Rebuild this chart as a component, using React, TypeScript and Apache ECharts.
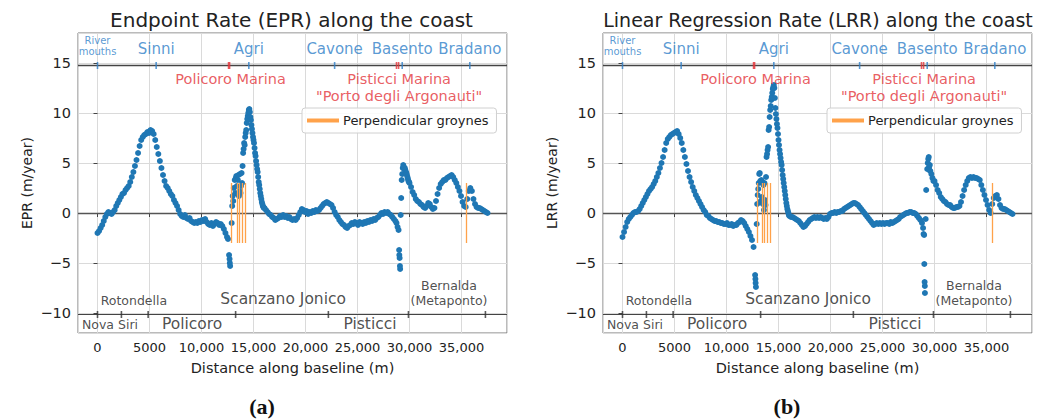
import React, { useEffect, useRef } from 'react';
import * as echarts from 'echarts';

// ---------- DATA (distances in metres, rates in m/year) ----------
const STEP_M = 150;
const SEG_A_START = 0;
const SEG_B_START = 16050;
const SEG_C_START = 30000;

const eprSegA = [-2.0,-1.8,-1.5,-1.2,-0.8,-0.4,-0.1,0.1,0.0,-0.1,
  0.1,0.3,0.7,1.0,1.3,1.6,1.9,2.0,2.3,2.5,
  2.7,3.1,3.6,4.1,4.7,5.3,6.0,6.7,7.3,7.6,
  7.8,7.9,8.1,8.0,8.3,8.2,7.9,7.3,6.6,5.9,
  5.2,4.5,3.8,3.2,2.7,2.5,2.2,1.9,1.7,1.3,
  1.0,0.7,0.3,-0.1,-0.3,-0.4,-0.2,-0.5,-0.6,-0.5,
  -0.8,-0.9,-1.0,-0.9,-1.0,-0.8,-0.9,-0.7,-0.8,-0.6,
  -0.9,-1.1,-1.2,-1.0,-1.3,-1.1,-0.9,-1.0,-1.2,-1.1,
  -1.3,-1.6,-2.0,-2.4];
const eprSegB = [0.5,0.3,0.1,-0.1,-0.2,-0.4,-0.5,-0.7,-0.6,-0.5,
  -0.3,-0.4,-0.2,-0.4,-0.3,-0.5,-0.4,-0.6,-0.7,-0.6,
  -0.7,-0.5,-0.2,0.1,0.4,0.3,0.1,0.2,-0.1,0.1,
  0.0,0.2,0.1,0.3,0.2,0.3,0.5,0.7,0.9,1.0,
  1.1,1.0,0.9,0.8,0.5,0.1,-0.2,-0.4,-0.7,-0.9,
  -1.1,-1.2,-1.4,-1.5,-1.3,-1.2,-1.0,-1.1,-0.9,-1.0,
  -1.2,-0.9,-1.0,-1.1,-0.9,-1.0,-0.8,-0.9,-0.7,-0.8,
  -0.6,-0.7,-0.5,-0.4,-0.2,0.0,-0.1,0.1,0.0,0.1,
  -0.1,-0.2,-0.4,-0.6,-0.8];
const eprSegC = [3.0,2.6,2.1,1.8,1.4,1.2,1.1,0.9,0.8,0.6,
  0.5,0.7,1.0,0.9,0.6,0.4,0.5,1.2,1.9,2.5,
  2.9,3.1,3.3,3.3,3.5,3.6,3.7,3.8,3.6,3.3,
  3.0,2.6,2.2,1.7,1.1,0.7,0.6,1.4,2.2,2.5,
  2.2,1.4,0.9,0.6,0.5,0.5,0.4,0.3,0.2,0.1,
  0.0];
// irregular points (km, m/yr) near the Agri and Basento mouths
const eprSparse = [[12.55,-2.6],[12.65,-4.2],[12.7,-4.6],[12.72,-5.0],[12.75,-5.3],[12.9,-1.0],[12.95,0.7],[13.0,1.7],[13.05,1.2],[13.1,2.5],[13.2,3.3],[13.25,2.0],[13.3,3.5],[13.35,3.7],[13.4,2.7],[13.45,1.9],[13.5,3.3],[13.55,3.8],[13.6,1.7],[13.65,2.2],[13.7,3.9],[13.75,2.0],[13.8,2.7],[13.85,4.0],[13.9,3.0],[13.95,4.7],[14.0,6.0],[14.05,6.4],[14.1,7.0],[14.15,6.8],[14.2,7.6],[14.25,8.0],[14.3,8.3],[14.35,9.0],[14.4,9.4],[14.45,9.7],[14.5,10.0],[14.55,10.3],[14.6,10.4],[14.65,10.1],[14.7,9.6],[14.75,9.3],[14.8,8.8],[14.85,8.4],[14.9,8.0],[14.95,7.6],[15.0,7.3],[15.05,7.0],[15.1,6.5],[15.15,6.0],[15.2,5.7],[15.25,5.2],[15.3,4.8],[15.35,4.4],[15.4,4.1],[15.45,3.6],[15.5,3.1],[15.55,2.8],[15.6,2.4],[15.65,2.0],[15.7,1.7],[15.75,1.4],[15.8,1.1],[15.85,0.9],[15.9,0.7],[15.95,0.6],[16.0,0.5],
  [28.75,-1.0],[28.85,-1.4],[28.95,-1.7],[29.0,-3.7],[29.02,-4.2],[29.05,-4.5],[29.08,-5.3],[29.1,-5.6],[29.15,-0.2],[29.2,1.5],[29.25,3.3],[29.3,3.9],[29.35,4.5],[29.4,4.8],[29.45,4.6],[29.5,4.4],[29.55,4.5],[29.6,4.3],[29.65,4.1],[29.7,4.0],[29.75,3.8],[29.8,3.6],[29.85,3.4],[29.9,3.2],[29.95,3.1]];

const lrrSegA = [-2.4,-1.9,-1.4,-0.9,-0.6,-0.4,-0.2,0.0,0.1,0.1,
  0.2,0.4,0.7,1.0,1.3,1.6,1.9,2.2,2.4,2.6,
  2.9,3.2,3.6,4.0,4.5,5.0,5.6,6.3,7.0,7.4,
  7.6,7.8,7.9,8.0,8.1,8.2,7.9,7.5,7.0,6.3,
  5.6,4.9,4.2,3.6,3.1,2.6,2.2,1.8,1.5,1.2,
  0.9,0.6,0.3,0.1,-0.2,-0.3,-0.5,-0.6,-0.7,-0.8,
  -0.8,-0.9,-0.9,-1.0,-1.0,-1.1,-1.1,-1.0,-1.2,-1.2,
  -1.1,-1.3,-1.2,-1.2,-1.0,-0.9,-0.7,-0.8,-1.0,-1.3,
  -1.6,-1.9,-2.3,-2.7];
const lrrSegB = [-0.3,-0.4,-0.4,-0.5,-0.6,-0.7,-0.8,-1.0,-1.2,-1.4,
  -1.3,-1.1,-0.9,-0.7,-0.6,-0.5,-0.4,-0.5,-0.4,-0.5,
  -0.4,-0.5,-0.6,-0.5,-0.6,-0.4,-0.1,0.0,0.0,0.1,
  0.0,0.1,0.1,0.2,0.2,0.4,0.5,0.6,0.7,0.8,
  0.9,1.0,1.0,0.9,0.8,0.6,0.4,0.2,0.0,-0.2,
  -0.4,-0.6,-0.8,-1.0,-1.2,-1.1,-1.0,-1.1,-1.0,-1.1,
  -1.0,-1.1,-1.0,-1.0,-1.1,-0.9,-1.0,-0.9,-0.8,-0.7,
  -0.6,-0.4,-0.3,-0.2,-0.1,0.0,0.0,0.1,0.1,0.0,
  0.0,-0.1,-0.3,-0.5,-0.7];
const lrrSegC = [3.2,2.8,2.3,2.0,1.6,1.4,1.2,1.1,0.9,0.8,
  0.8,0.6,0.5,0.5,0.6,0.6,0.7,1.1,1.7,2.3,
  2.8,3.2,3.5,3.6,3.5,3.6,3.5,3.5,3.4,3.3,
  2.8,2.3,1.8,1.3,0.8,0.3,0.0,0.9,1.5,1.7,
  1.8,1.4,0.8,0.5,0.4,0.4,0.3,0.2,0.1,0.0,
  -0.1];
const lrrSparse = [[12.6,-3.4],[12.75,-6.2],[12.78,-6.6],[12.8,-7.0],[12.83,-7.4],[12.9,-1.1],[12.95,0.9],[13.0,1.8],[13.05,2.4],[13.1,3.0],[13.15,3.9],[13.2,4.0],[13.25,3.2],[13.3,1.2],[13.35,3.3],[13.4,1.6],[13.45,3.1],[13.5,0.9],[13.55,2.8],[13.6,0.3],[13.62,1.1],[13.65,3.0],[13.7,1.3],[13.75,0.8],[13.8,3.6],[13.85,5.6],[13.9,5.9],[13.95,6.3],[14.0,6.6],[14.05,8.3],[14.1,8.6],[14.15,9.6],[14.2,10.3],[14.25,10.7],[14.3,11.3],[14.35,11.6],[14.4,12.0],[14.45,12.4],[14.5,12.6],[14.55,12.8],[14.6,12.5],[14.65,11.5],[14.7,10.5],[14.75,9.9],[14.8,9.4],[14.85,8.9],[14.9,8.5],[14.95,7.9],[15.0,7.3],[15.05,6.8],[15.1,6.3],[15.15,5.9],[15.2,5.5],[15.25,5.1],[15.3,4.8],[15.35,4.3],[15.4,3.8],[15.45,3.4],[15.5,3.0],[15.55,2.6],[15.6,2.2],[15.65,1.8],[15.7,1.4],[15.75,1.0],[15.8,0.7],[15.85,0.4],[15.9,0.2],[15.95,0.0],[16.0,-0.2],
  [28.8,-1.0],[28.9,-1.5],[28.95,-2.1],[29.0,-2.2],[29.02,-5.1],[29.05,-6.9],[29.07,-7.3],[29.08,-8.0],[29.15,-0.6],[29.2,2.3],[29.3,4.4],[29.35,5.0],[29.4,5.4],[29.45,5.6],[29.48,4.6],[29.5,4.3],[29.55,4.8],[29.6,4.2],[29.7,3.9],[29.8,3.5],[29.9,3.2]];

const groynesEPR = [12900, 13400, 13650, 13950, 14200, 35500];
const groynesLRR = [12950, 13440, 13630, 13920, 14170, 35550];
const groyneRange = [-3, 3];

const riverNames = ['River\nmouths', 'Sinni', 'Agri', 'Cavone', 'Basento', 'Bradano'];
const riverMouths = [0, 5640, 14550, 22800, 29300, 35800];
const marinaNames = ['Policoro Marina', 'Pisticci Marina\n"Porto degli Argonauti"'];
const marinaLabelX = [12800, 29000];
const marinaTicks = [12600, 12700, 28750, 28950];
const municipalityBounds = [0, 2300, 4870, 13280, 22200, 29900, 37300];
const municipalitiesAbove = [['Rotondella', 3500], ['Scanzano Jonico', 17850], ['Bernalda\n(Metaponto)', 33800]];
const municipalitiesBelow = [['Nova Siri', 1200], ['Policoro', 9100], ['Pisticci', 26200]];

const STRIP_TOP = 14.75;
const STRIP_BOTTOM = -10.15;

const X_MIN = -1875, X_MAX = 39375, Y_MIN = -12, Y_MAX = 18;

const BLUE = '#1f77b4';
const LABEL_BLUE = '#2f80c8';
const RED = '#e3343a';
const ORANGE = '#ffa24a';
const FONT = 'DejaVu Sans';

function buildSeg(start: number, values: number[]) {
  return values.map((v, i) => [start + i * STEP_M, v]);
}
function buildPoints(a: number[], b: number[], c: number[], sparse: number[][]) {
  return [
    ...buildSeg(SEG_A_START, a),
    ...sparse.map(([k, v]) => [Math.round(k * 1000), v]),
    ...buildSeg(SEG_B_START, b),
    ...buildSeg(SEG_C_START, c),
  ];
}

function panel(idx: number, points: number[][], groynes: number[]) {
  const ax = { xAxisIndex: idx, yAxisIndex: idx };
  const textItems: any[] = [];
  riverNames.forEach((n, i) => {
    const small = i === 0;
    textItems.push({
      value: [riverMouths[i], small ? 16.75 : 16.45],
      label: { formatter: n, fontSize: small ? 10 : 15, lineHeight: small ? 11 : 18, color: LABEL_BLUE },
    });
  });
  marinaNames.forEach((n, i) => {
    textItems.push({
      value: [marinaLabelX[i], i === 0 ? 13.4 : 12.55],
      label: { formatter: n, fontSize: 14.5, lineHeight: 17, color: RED },
    });
  });
  municipalitiesAbove.forEach(([n, x]) => {
    const big = n === 'Scanzano Jonico';
    const multi = String(n).includes('\n');
    textItems.push({
      value: [x as number, big ? -8.63 : multi ? -8.0 : -8.77],
      label: { formatter: n, fontSize: big ? 15.5 : 12.5, lineHeight: 15.5, color: '#222' },
    });
  });
  municipalitiesBelow.forEach(([n, x]) => {
    const big = n !== 'Nova Siri';
    textItems.push({
      value: [x as number, -11.13],
      label: { formatter: n, fontSize: big ? 15.5 : 12.5, color: '#222' },
    });
  });

  const tickItems: any[] = [
    ...riverMouths.map((x) => ({ value: [x, STRIP_TOP], itemStyle: { color: LABEL_BLUE } })),
    ...marinaTicks.map((x) => ({ value: [x, STRIP_TOP], itemStyle: { color: RED } })),
    ...municipalityBounds.map((x) => ({ value: [x, STRIP_BOTTOM], itemStyle: { color: '#333' } })),
  ];

  return [
    {
      type: 'scatter', ...ax, data: points, symbolSize: 6,
      itemStyle: { color: BLUE, opacity: 1 }, z: 3, silent: true,
      markLine: {
        silent: true, symbol: ['none', 'none'], label: { show: false },
        data: [
          { yAxis: 0, lineStyle: { color: '#555', width: 1.4, type: 'solid' } },
          { yAxis: STRIP_TOP, lineStyle: { color: '#444', width: 1.4, type: 'solid' } },
          { yAxis: STRIP_BOTTOM, lineStyle: { color: '#444', width: 1.2, type: 'solid' } },
        ],
        z: 2,
      },
    },
    {
      type: 'lines', name: 'Perpendicular groynes', coordinateSystem: 'cartesian2d', ...ax,
      data: groynes.map((x) => ({ coords: [[x, groyneRange[0]], [x, groyneRange[1]]] })),
      lineStyle: { color: ORANGE, width: 1.3, opacity: 1 }, itemStyle: { color: ORANGE },
      z: 4, silent: true,
    },
    {
      type: 'scatter', ...ax, data: tickItems, symbol: 'rect', symbolSize: [1.6, 7], z: 5, silent: true,
    },
    {
      type: 'scatter', ...ax, data: textItems, symbolSize: 1, silent: true,
      itemStyle: { color: 'rgba(0,0,0,0)' }, z: 6,
      label: { show: true, position: 'inside', fontFamily: FONT, align: 'center', verticalAlign: 'middle' },
    },
  ];
}

function xAxis(idx: number) {
  return {
    gridIndex: idx, type: 'value', min: X_MIN, max: X_MAX, splitNumber: 8,
    axisLine: { show: false },
    axisTick: { show: true, length: 4, lineStyle: { color: '#444' } },
    axisLabel: {
      showMinLabel: false, showMaxLabel: false, fontSize: 13, color: '#222', fontFamily: FONT, margin: 8,
      formatter: (v: number) => (Math.abs(v) >= 10000 ? v.toLocaleString('en-US') : String(v)),
    },
    splitLine: { show: true, lineStyle: { color: '#dadada', width: 1 } },
    name: 'Distance along baseline (m)', nameLocation: 'middle', nameGap: 27,
    nameTextStyle: { fontSize: 14.5, color: '#222', fontFamily: FONT },
  };
}
function yAxis(idx: number, name: string) {
  return {
    gridIndex: idx, type: 'value', min: Y_MIN, max: Y_MAX, splitNumber: 6,
    axisLine: { show: false },
    axisTick: { show: true, length: 4, lineStyle: { color: '#444' } },
    axisLabel: {
      showMinLabel: false, showMaxLabel: false, fontSize: 14.5, color: '#222', fontFamily: FONT, margin: 7,
      formatter: (v: number) => (v < 0 ? '\u2212' + Math.abs(v) : String(v)),
    },
    splitLine: { show: true, lineStyle: { color: '#dadada', width: 1 } },
    name, nameLocation: 'middle', nameGap: 44, nameRotate: 90,
    nameTextStyle: { fontSize: 14, color: '#222', fontFamily: FONT },
  };
}
function legend(left: number) {
  return {
    left, top: 108, orient: 'horizontal',
    data: [{ name: 'Perpendicular groynes', icon: 'rect', itemStyle: { color: ORANGE } }],
    itemWidth: 30, itemHeight: 2, padding: [6, 8, 6, 5],
    borderColor: '#d0d0d0', borderWidth: 1, borderRadius: 3, backgroundColor: 'rgba(255,255,255,0.85)',
    textStyle: { fontSize: 13, color: '#222', fontFamily: FONT },
    selectedMode: false,
  };
}

export default function App() {
  const ref = useRef<HTMLDivElement>(null);
  useEffect(() => {
    document.body.style.margin = '0';
    const chart = echarts.init(ref.current!, null, { renderer: 'svg' });
    const epr = buildPoints(eprSegA, eprSegB, eprSegC, eprSparse);
    const lrr = buildPoints(lrrSegA, lrrSegB, lrrSegC, lrrSparse);
    chart.setOption({
      animation: false,
      backgroundColor: '#fff',
      textStyle: { fontFamily: FONT },
      grid: [
        { left: 78, top: 33, width: 429, height: 300, show: true, borderColor: '#777', borderWidth: 1, containLabel: false },
        { left: 603, top: 33, width: 429, height: 300, show: true, borderColor: '#777', borderWidth: 1, containLabel: false },
      ],
      xAxis: [xAxis(0), xAxis(1)],
      yAxis: [yAxis(0, 'EPR (m/year)'), yAxis(1, 'LRR (m/year)')],
      legend: [legend(302), legend(827)],
      series: [...panel(0, epr, groynesEPR), ...panel(1, lrr, groynesLRR)],
      graphic: [
        { type: 'text', x: 291.5, y: 20, style: { text: 'Endpoint Rate (EPR) along the coast', fontSize: 20, fontFamily: FONT, fill: '#222', align: 'center', verticalAlign: 'middle' } },
        { type: 'text', x: 818, y: 20, style: { text: 'Linear Regression Rate (LRR) along the coast', fontSize: 19, fontFamily: FONT, fill: '#222', align: 'center', verticalAlign: 'middle' } },
        { type: 'text', x: 262, y: 406, style: { text: '(a)', fontSize: 22, fontWeight: 'bold', fontFamily: 'Liberation Serif', fill: '#111', align: 'center', verticalAlign: 'middle' } },
        { type: 'text', x: 787, y: 406, style: { text: '(b)', fontSize: 22, fontWeight: 'bold', fontFamily: 'Liberation Serif', fill: '#111', align: 'center', verticalAlign: 'middle' } },
      ],
    });
    return () => chart.dispose();
  }, []);
  return <div ref={ref} style={{ position: 'fixed', left: 0, top: 0, width: 1052, height: 419, background: '#fff' }} />;
}
